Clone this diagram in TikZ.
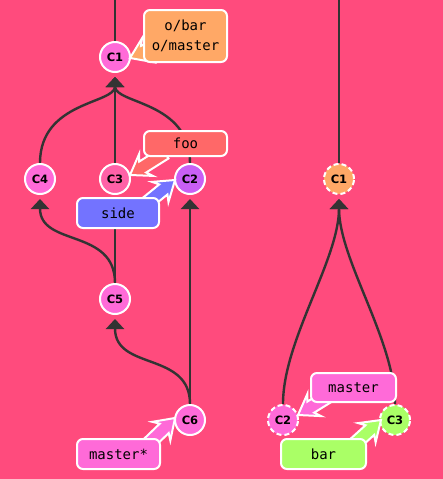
\documentclass[tikz,border=0pt]{standalone}
\usepackage{fontspec}
\usetikzlibrary{calc,arrows.meta}
\newfontfamily\monof{DejaVu Sans Mono}
\newfontfamily\commitf{DejaVu Sans}
\definecolor{bgc}{HTML}{FF4B7D}
\definecolor{linec}{HTML}{333333}
\definecolor{pinkc}{HTML}{FF6AD8}
\definecolor{rosec}{HTML}{FF61A7}
\definecolor{purpc}{HTML}{C95FF5}
\definecolor{orangec}{HTML}{FFA866}
\definecolor{fooc}{HTML}{FF6868}
\definecolor{sidec}{HTML}{7373FF}
\definecolor{greenc}{HTML}{AAFF66}
\pgfdeclarelayer{bg}
\pgfsetlayers{bg,main}
\newcommand\ptr[3]{%
  \coordinate (ptrA) at #2;
  \coordinate (ptrB) at #3;
  \coordinate (ptrH) at ($(ptrB)!15pt!(ptrA)$);
  \coordinate (ptrG) at ($(ptrB)!19pt!(ptrA)$);
  \filldraw[draw=white, line width=2pt, fill=#1, line join=miter]
    ($(ptrA)!6.5pt!90:(ptrB)$) -- ($(ptrH)!6.5pt!90:(ptrB)$) -- ($(ptrG)!13pt!90:(ptrB)$)
    -- (ptrB) -- ($(ptrG)!13pt!-90:(ptrB)$) -- ($(ptrH)!6.5pt!-90:(ptrB)$)
    -- ($(ptrA)!6.5pt!-90:(ptrB)$) -- cycle;
}
\begin{document}
\begin{tikzpicture}[x=1pt,y=-1pt,
  commit/.style={circle, minimum size=30pt, inner sep=0pt, line width=2pt, draw=white,
    font=\commitf\bfseries\fontsize{11.5}{12}\selectfont},
  dcommit/.style={commit, dash pattern=on 5pt off 3pt},
  edge/.style={draw=linec, line width=2.4pt, shorten >=4pt, -{Triangle[width=18pt,length=10pt]}},
  plain/.style={draw=linec, line width=2.4pt},
  lbl/.style={draw=white, line width=2pt, rounded corners=6pt, inner sep=0pt,
    font=\monof\fontsize{14}{20}\selectfont, align=center},
]
\begin{pgfonlayer}{bg}
\fill[bgc] (0,0) rectangle (443,479);
\end{pgfonlayer}
\useasboundingbox (0,0) rectangle (443,479);

% left tree commits
\node[commit, fill=pinkc] (lc1) at (115,57) {C1};
\node[commit, fill=pinkc] (lc4) at (40,179) {C4};
\node[commit, fill=rosec] (lc3) at (115,179) {C3};
\node[commit, fill=purpc] (lc2) at (190,179) {C2};
\node[commit, fill=pinkc] (lc5) at (115,299) {C5};
\node[commit, fill=pinkc] (lc6) at (190,420) {C6};
% right tree commits
\node[dcommit, fill=orangec] (rc1) at (339,179) {C1};
\node[dcommit, fill=pinkc] (rc2) at (283,420) {C2};
\node[dcommit, fill=greenc] (rc3) at (395,420) {C3};

\coordinate (topL) at (115,0);
\coordinate (topR) at (339,0);

\begin{pgfonlayer}{bg}
\draw[plain] (topL) -- (lc1.north);
\draw[plain] (topR) -- (rc1.north);
\draw[edge] (lc4.north) .. controls +(0,-62) and +(0,31) .. (lc1.south);
\draw[edge] (lc3.north) -- (lc1.south);
\draw[edge] (lc2.north) .. controls +(0,-62) and +(0,31) .. (lc1.south);
\draw[edge] (lc5.north) .. controls +(0,-55) and +(0,52) .. (lc4.south);
\draw[edge] (lc5.north) -- (lc3.south);
\draw[edge] (lc6.north) .. controls +(0,-53) and +(0,56) .. (lc5.south);
\draw[edge] (lc6.north) -- (lc2.south);
\draw[edge] (rc2.north) .. controls +(0,-64) and +(0,65) .. (rc1.south);
\draw[edge] (rc3.north) .. controls +(0,-64) and +(0,65) .. (rc1.south);
\end{pgfonlayer}

% pointers
\ptr{orangec}{(170,40)}{(130,58)}
\ptr{fooc}{(165,153)}{(130,175)}
\ptr{sidec}{(143,206)}{(175,180)}
\ptr{pinkc}{(148,444)}{(175,418)}
\ptr{pinkc}{(332,394)}{(298,415)}
\ptr{greenc}{(350,448)}{(381,420)}

% labels
\node[lbl, fill=orangec, minimum width=83pt, minimum height=52pt] (obar) at (185.5,36) {o/bar\\o/master};
\node[lbl, fill=fooc, minimum width=83pt, minimum height=25pt] (foo) at (185.5,143.5) {foo};
\node[lbl, fill=sidec, minimum width=82pt, minimum height=30pt] (side) at (118,213) {side};
\node[lbl, fill=pinkc, minimum width=83pt, minimum height=30pt] (mstar) at (118.5,454) {master*};
\node[lbl, fill=pinkc, minimum width=85pt, minimum height=29pt] (mast) at (353.5,387.5) {master};
\node[lbl, fill=greenc, minimum width=85pt, minimum height=30pt] (bar) at (323.5,454) {bar};
\end{tikzpicture}
\end{document}
